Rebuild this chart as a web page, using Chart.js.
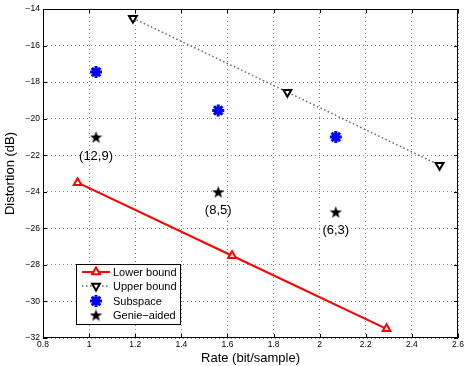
<!DOCTYPE html>
<html>
<head>
<meta charset="utf-8">
<script src="https://cdn.jsdelivr.net/npm/chart.js@4.4.1/dist/chart.umd.min.js"></script>
<style>
  html, body { margin: 0; padding: 0; background: #fff; }
  #wrap { width: 467px; height: 366px; }
</style>
</head>
<body>
<div id="wrap"><canvas id="chart"></canvas></div>
<script>
// values
const lowerRate = [0.95, 1.62, 2.29];
const lowerDist = [-23.5, -27.5, -31.5];
const upperRate = [1.19, 1.86, 2.52];
const upperDist = [-14.5, -18.55, -22.55];
const subRate = [1.03, 1.56, 2.07];
const subDist = [-17.45, -19.55, -21.0];
const genieRate = [1.03, 1.56, 2.07];
const genieDist = [-21.0, -24.0, -25.1];
const genieLabels = ['(12,9)', '(8,5)', '(6,3)'];
const seriesNames = ['Lower bound', 'Upper bound', 'Subspace', 'Genie\u2212aided'];

const FONT = "'Liberation Sans', Arial, sans-serif";

// five point star for the genie-aided marker
function makeStar(size, color) {
  const c = document.createElement('canvas');
  c.width = size; c.height = size;
  const g = c.getContext('2d');
  const cx = size / 2, cy = size / 2 + 0.7, R = size / 2, r = R * 0.4;
  g.beginPath();
  for (let i = 0; i < 10; i++) {
    const rad = i % 2 === 0 ? R : r;
    const a = -Math.PI / 2 + i * Math.PI / 5;
    g.lineTo(cx + rad * Math.cos(a), cy + rad * Math.sin(a));
  }
  g.closePath();
  g.fillStyle = color;
  g.fill();
  return c;
}
const starImg = makeStar(13, '#000');

const pts = (xs, ys) => xs.map((x, i) => ({ x: x, y: ys[i] }));
const minus = s => String(s).replace('-', '\u2212');

const frame = {
  id: 'frame',
  afterDraw(chart) {
    const { ctx, chartArea: a, scales } = chart;
    const xs = scales.x, ys = scales.y;
    ctx.save();
    // box
    ctx.strokeStyle = '#000';
    ctx.lineWidth = 1;
    ctx.strokeRect(a.left + 0.5, a.top + 0.5, a.right - a.left - 1, a.bottom - a.top - 1);
    // inward ticks
    ctx.beginPath();
    xs.ticks.forEach(t => {
      const px = Math.round(xs.getPixelForValue(t.value)) + 0.5;
      ctx.moveTo(px, a.bottom); ctx.lineTo(px, a.bottom - 4);
      ctx.moveTo(px, a.top); ctx.lineTo(px, a.top + 4);
    });
    ys.ticks.forEach(t => {
      const py = Math.round(ys.getPixelForValue(t.value)) + 0.5;
      ctx.moveTo(a.left, py); ctx.lineTo(a.left + 4, py);
      ctx.moveTo(a.right, py); ctx.lineTo(a.right - 4, py);
    });
    ctx.stroke();

    // genie labels
    ctx.fillStyle = '#000';
    ctx.font = '13px ' + FONT;
    ctx.textAlign = 'center';
    ctx.textBaseline = 'middle';
    genieLabels.forEach((lab, i) => {
      ctx.fillText(lab, xs.getPixelForValue(genieRate[i]), ys.getPixelForValue(genieDist[i]) + 19);
    });

    // legend box
    const lx = 76, ly = 264, lw = 104, lh = 60;
    ctx.fillStyle = '#fff';
    ctx.fillRect(lx, ly, lw, lh);
    ctx.strokeStyle = '#000';
    ctx.lineWidth = 1;
    ctx.strokeRect(lx + 0.5, ly + 0.5, lw, lh);
    ctx.font = '11px ' + FONT;
    const rows = [272, 286, 301, 315];
    chart.data.datasets.forEach((ds, i) => {
      const y = rows[i];
      if (ds.showLine) {
        ctx.save();
        ctx.strokeStyle = ds.borderColor;
        ctx.lineWidth = ds.borderWidth;
        ctx.setLineDash(ds.borderDash || []);
        ctx.beginPath();
        ctx.moveTo(82, y); ctx.lineTo(110, y);
        ctx.stroke();
        ctx.restore();
      }
      ctx.save();
      ctx.strokeStyle = ds.pointBorderColor;
      ctx.fillStyle = ds.pointBackgroundColor;
      ctx.lineWidth = ds.pointBorderWidth;
      Chart.helpers.drawPoint(ctx, {
        pointStyle: ds.pointStyle, rotation: ds.pointRotation || 0,
        radius: ds.pointRadius, borderWidth: ds.pointBorderWidth
      }, 96, y);
      ctx.restore();
      ctx.fillStyle = '#000';
      ctx.textAlign = 'left';
      ctx.fillText(ds.label, 113, y + 0.5);
    });
    ctx.restore();
  }
};

new Chart(document.getElementById('chart'), {
  type: 'scatter',
  data: {
    datasets: [
      {
        label: seriesNames[0], data: pts(lowerRate, lowerDist), showLine: true,
        borderColor: '#ff0000', borderWidth: 2,
        pointStyle: 'triangle', pointRadius: 4.5, pointBorderWidth: 2,
        pointBorderColor: '#ff0000', pointBackgroundColor: '#fff'
      },
      {
        label: seriesNames[1], data: pts(upperRate, upperDist), showLine: true,
        borderColor: '#666', borderWidth: 1.5, borderDash: [1.5, 2.5],
        pointStyle: 'triangle', pointRotation: 180, pointRadius: 4.5, pointBorderWidth: 2,
        pointBorderColor: '#000', pointBackgroundColor: '#fff'
      },
      {
        label: seriesNames[2], data: pts(subRate, subDist), showLine: false,
        pointStyle: 'star', pointRadius: 6, pointBorderWidth: 3,
        pointBorderColor: '#0000ff', pointBackgroundColor: '#0000ff'
      },
      {
        label: seriesNames[3], data: pts(genieRate, genieDist), showLine: false,
        pointStyle: starImg, pointRadius: 6.5, pointBorderWidth: 0,
        pointBorderColor: '#000', pointBackgroundColor: '#000'
      }
    ]
  },
  options: {
    responsive: true,
    maintainAspectRatio: false,
    animation: false,
    layout: { padding: { left: 0, top: 9, right: 8, bottom: 0 } },
    plugins: { legend: { display: false }, tooltip: { enabled: false } },
    scales: {
      x: {
        type: 'linear', min: 0.8, max: 2.6,
        afterFit: s => { s.height = 28; },
        ticks: {
          stepSize: 0.2, color: '#000', padding: 2,
          font: { family: FONT, size: 8.5 },
          callback: v => String(+v.toFixed(1))
        },
        grid: { color: 'rgba(0,0,0,0.5)', lineWidth: 1, drawTicks: false },
        border: { display: false, dash: [1, 3] },
        title: {
          display: true, text: 'Rate (bit/sample)', color: '#000',
          font: { family: FONT, size: 13 }, padding: { top: 0, bottom: 0 }
        }
      },
      y: {
        type: 'linear', min: -32, max: -14,
        afterFit: s => { s.width = 43; },
        ticks: {
          stepSize: 2, color: '#000', padding: 3,
          font: { family: FONT, size: 8.5 },
          callback: v => minus(v)
        },
        grid: { color: 'rgba(0,0,0,0.5)', lineWidth: 1, drawTicks: false },
        border: { display: false, dash: [1, 3] },
        title: {
          display: true, text: 'Distortion (dB)', color: '#000',
          font: { family: FONT, size: 13 }, padding: { top: 3, bottom: 0 }
        }
      }
    }
  },
  plugins: [frame]
});
</script>
</body>
</html>
